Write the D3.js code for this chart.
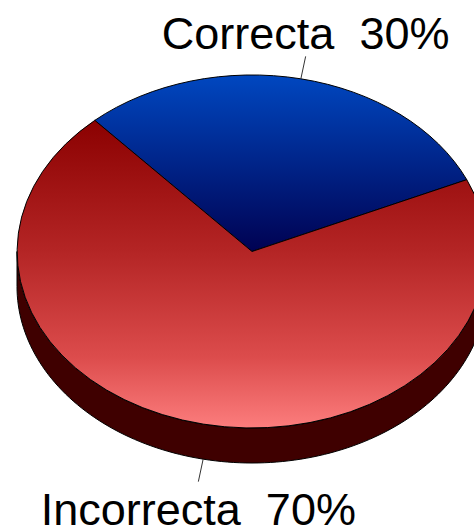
<!DOCTYPE html>
<html>
<head>
<meta charset="utf-8">
<script src="https://cdn.jsdelivr.net/npm/d3@7"></script>
<style>
  body { margin: 0; background: #fff; }
  svg { display: block; }
</style>
</head>
<body>
<div id="wrapper"></div>
<script>
// data
const categories = ["Correcta", "Incorrecta"];
const values = [30, 70];
const sideColors = ["#000033", "#3f0000"];

// dimensions
const dims = { width: 474, height: 529, cx: 252, cy: 251.5, rx: 235, ry: 176.5, depth: 35 };

const svg = d3.select("#wrapper").append("svg")
  .attr("width", dims.width)
  .attr("height", dims.height);

const defs = svg.append("defs");
// gradients in the unit-circle space of the top face (y from -1 to 1)
const gradStops = [
  [[0, "#0047c0"], [1, "#000050"]],
  [[0, "#6a0000"], [0.12, "#8a0000"], [0.5, "#b42525"], [0.8, "#dc4c4c"], [1, "#fc7d7d"]]
];
const gradRange = [[-1, 0.02], [-1, 1]];
gradStops.forEach((stops, i) => {
  const g = defs.append("linearGradient")
    .attr("id", `grad${i}`)
    .attr("gradientUnits", "userSpaceOnUse")
    .attr("x1", 0).attr("x2", 0)
    .attr("y1", gradRange[i][0]).attr("y2", gradRange[i][1]);
  stops.forEach(s => g.append("stop").attr("offset", s[0]).attr("stop-color", s[1]));
});

const deg = Math.PI / 180;
const pie = d3.pie().sort(null)
  .startAngle(-42 * deg)
  .endAngle(318 * deg);
const arcs = pie(values);

// ellipse position for a compass angle (clockwise from top)
const px = a => dims.cx + dims.rx * Math.sin(a);
const py = a => dims.cy - dims.ry * Math.cos(a);

// side walls (only the front half is visible)
const line = d3.line();
arcs.forEach((d, i) => {
  const a0 = Math.max(d.startAngle, 90 * deg);
  const a1 = Math.min(d.endAngle, 270 * deg);
  if (a1 <= a0) return;
  const n = 120;
  const angles = d3.range(n + 1).map(k => a0 + (a1 - a0) * k / n);
  const top = angles.map(a => [px(a), py(a)]);
  const bottom = angles.slice().reverse().map(a => [px(a), py(a) + dims.depth]);
  svg.append("path")
    .attr("d", line(top.concat(bottom)) + "Z")
    .attr("fill", sideColors[i])
    .attr("stroke", "#000")
    .attr("stroke-width", 1);
});

// top face
const arcGen = d3.arc().innerRadius(0).outerRadius(1);
const topFace = svg.append("g")
  .attr("transform", `translate(${dims.cx},${dims.cy}) scale(${dims.rx},${dims.ry})`);
topFace.selectAll("path")
  .data(arcs)
  .join("path")
  .attr("d", arcGen)
  .attr("fill", (d, i) => `url(#grad${i})`)
  .attr("stroke", "#000")
  .attr("stroke-width", 1)
  .attr("vector-effect", "non-scaling-stroke");

// labels with leader lines
const total = d3.sum(values);
arcs.forEach((d, i) => {
  const mid = (d.startAngle + d.endAngle) / 2;
  const front = Math.cos(mid) < 0;
  const x0 = px(mid);
  const y0 = py(mid) + (front ? dims.depth : 0);
  const len = 23;
  const x1 = x0 + len * Math.sin(mid);
  const y1 = y0 - len * Math.cos(mid);
  svg.append("line")
    .attr("x1", x0).attr("y1", y0)
    .attr("x2", x1).attr("y2", y1)
    .attr("stroke", "#333")
    .attr("stroke-width", 1);
  svg.append("text")
    .attr("x", x1)
    .attr("y", front ? y1 + 43 : y1 - 7)
    .attr("text-anchor", "middle")
    .style("white-space", "pre")
    .style("font-family", "'Liberation Sans', Arial, sans-serif")
    .style("font-size", "45px")
    .attr("fill", "#000")
    .text(`${categories[i]}  ${Math.round(values[i] / total * 100)}%`);
});
</script>
</body>
</html>
